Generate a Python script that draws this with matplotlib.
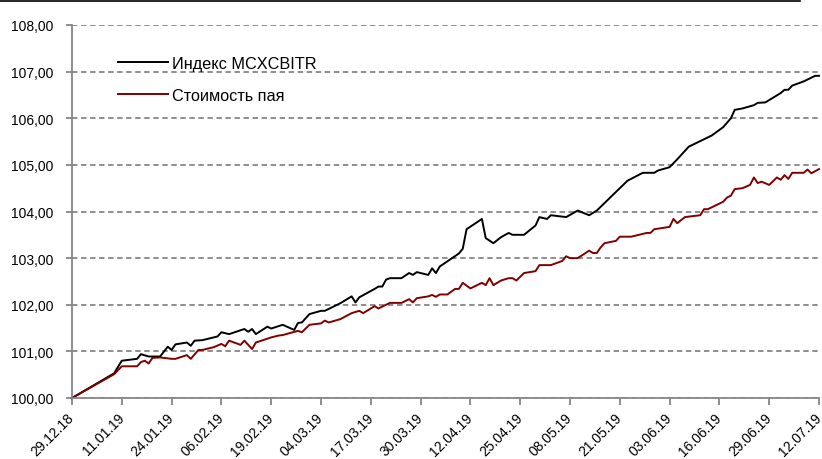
import pandas as pd
import numpy as np
import matplotlib
matplotlib.use("Agg")
import matplotlib.pyplot as plt
import matplotlib.dates as mdates
from matplotlib.ticker import FuncFormatter
from matplotlib.lines import Line2D

plt.rcParams['font.family'] = ['Liberation Sans', 'DejaVu Sans']
plt.rcParams['font.size'] = 10

# Данные (дни от 29.12.2018 и значения)
start = pd.Timestamp('2018-12-29')

idx_days = [0, 11, 13, 17, 18, 20, 23, 25, 26, 27, 30, 31, 32, 34, 38, 39, 41, 45, 46, 47,
            48, 51, 52, 55, 58, 59, 60, 62, 65, 66, 70, 73, 74, 75, 79, 80, 81, 82, 83, 86,
            88, 89, 90, 93, 94, 95, 96, 101, 102, 103, 107, 108, 110, 112, 114, 115, 118, 121, 122, 124,
            125, 129, 132, 135, 137, 145, 149, 152, 153, 156, 158, 161, 165, 167, 170, 172, 173, 175, 178, 179,
            181, 185, 186, 187, 188, 191, 194, 195]
idx_values = [100.00, 100.53, 100.80, 100.84, 100.94, 100.89, 100.89, 101.10, 101.03, 101.15,
              101.19, 101.12, 101.23, 101.24, 101.32, 101.41, 101.37, 101.48, 101.42, 101.48,
              101.37, 101.53, 101.49, 101.57, 101.46, 101.61, 101.62, 101.80, 101.87, 101.87,
              102.03, 102.18, 102.05, 102.16, 102.34, 102.39, 102.39, 102.54, 102.57, 102.57,
              102.68, 102.64, 102.70, 102.64, 102.78, 102.68, 102.82, 103.10, 103.20, 103.62,
              103.84, 103.43, 103.32, 103.45, 103.54, 103.50, 103.50, 103.70, 103.88, 103.84,
              103.92, 103.88, 104.02, 103.92, 104.02, 104.66, 104.83, 104.83, 104.88, 104.95,
              105.12, 105.39, 105.55, 105.63, 105.81, 106.00, 106.18, 106.21, 106.28, 106.33,
              106.34, 106.54, 106.61, 106.61, 106.70, 106.79, 106.91, 106.91]

nav_days = [0, 11, 13, 17, 18, 19, 20, 21, 23, 26, 27, 30, 31, 33, 34, 37, 39, 40, 41, 44,
            45, 47, 48, 52, 54, 55, 59, 60, 62, 65, 66, 67, 70, 73, 75, 76, 79, 80, 82, 83,
            86, 88, 89, 90, 93, 94, 95, 96, 98, 100, 101, 102, 104, 107, 108, 109, 110, 112, 114, 115,
            116, 118, 121, 122, 125, 128, 129, 130, 132, 135, 136, 137, 138, 139, 142, 143, 146, 150, 151, 152,
            156, 157, 158, 160, 164, 165, 166, 170, 171, 172, 173, 175, 177, 178, 179, 180, 182, 184, 185, 186,
            187, 188, 191, 192, 193, 195]
nav_values = [100.00, 100.51, 100.68, 100.68, 100.77, 100.80, 100.74, 100.86, 100.87, 100.84,
              100.84, 100.92, 100.84, 101.03, 101.03, 101.09, 101.16, 101.11, 101.23, 101.14,
              101.23, 101.05, 101.19, 101.30, 101.34, 101.35, 101.44, 101.41, 101.57, 101.60,
              101.66, 101.62, 101.69, 101.82, 101.87, 101.82, 101.97, 101.92, 102.00, 102.04,
              102.04, 102.12, 102.05, 102.14, 102.18, 102.21, 102.17, 102.22, 102.22, 102.34,
              102.34, 102.47, 102.35, 102.47, 102.42, 102.57, 102.42, 102.52, 102.57, 102.57,
              102.52, 102.68, 102.72, 102.85, 102.85, 102.94, 103.04, 103.00, 103.00, 103.16,
              103.11, 103.11, 103.23, 103.32, 103.37, 103.46, 103.46, 103.54, 103.54, 103.62,
              103.67, 103.84, 103.75, 103.88, 103.92, 104.05, 104.05, 104.21, 104.30, 104.34,
              104.48, 104.50, 104.57, 104.73, 104.61, 104.64, 104.57, 104.73, 104.68, 104.78,
              104.70, 104.83, 104.83, 104.90, 104.82, 104.91]

tick_step = 13
n_days = 195

idx_dates = start + pd.to_timedelta(idx_days, unit='D')
nav_dates = start + pd.to_timedelta(nav_days, unit='D')
tick_dates = start + pd.to_timedelta(np.arange(0, n_days + 1, tick_step), unit='D')

grey = '#868686'

fig = plt.figure(figsize=(8.22, 4.60), dpi=100)
ax = fig.add_axes([72 / 822, 61 / 460, 747 / 822, 373 / 460])

ax.plot(idx_dates, idx_values, color='#000000', lw=1.4, label='Индекс MCXCBITR', clip_on=False)
ax.plot(nav_dates, nav_values, color='#800000', lw=1.4, label='Стоимость пая', clip_on=False)

ax.set_xlim(start, start + pd.Timedelta(days=n_days))
ax.set_ylim(100, 108)
ax.set_yticks(np.arange(100, 108.5, 1))
ax.yaxis.set_major_formatter(FuncFormatter(lambda v, p: f'{v:.2f}'.replace('.', ',')))

ax.set_xticks(tick_dates)
ax.xaxis.set_major_formatter(mdates.DateFormatter('%d.%m.%y'))
plt.setp(ax.get_xticklabels(), rotation=45, ha='right', va='center', rotation_mode='anchor')

ax.grid(axis='y', color=grey, linestyle=(0, (3, 2)), linewidth=1.3)
ax.set_axisbelow(True)
for s in ['top', 'right']:
    ax.spines[s].set_visible(False)
for s in ['left', 'bottom']:
    ax.spines[s].set_color(grey)
    ax.spines[s].set_linewidth(1.3)
ax.tick_params(axis='x', direction='out', length=5, width=1.3, color=grey, pad=7.5, labelsize=10)
ax.tick_params(axis='y', direction='out', length=4, width=1.3, color=grey, pad=9.5, labelsize=10)

ax.legend(loc='upper left', bbox_to_anchor=(0.0615, 0.917), frameon=False,
          borderpad=0, borderaxespad=0, handlelength=3.1, handletextpad=0.25,
          labelspacing=1.05, fontsize=11.7)

# верхняя линия
fig.add_artist(Line2D([0, 800 / 822], [1 - 1.5 / 460, 1 - 1.5 / 460], color='black', lw=1.2))

fig.savefig('out.png', dpi=100)
